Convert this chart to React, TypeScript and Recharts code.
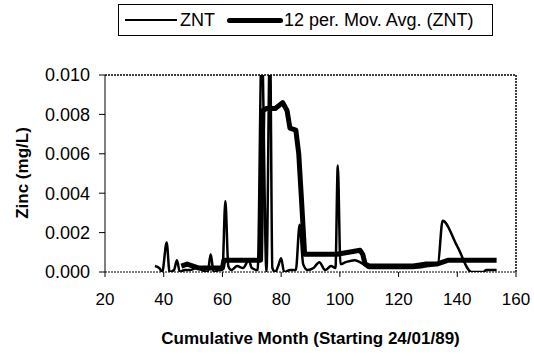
import React from "react";
import {
  LineChart,
  Line,
  XAxis,
  YAxis,
  ReferenceLine,
  Label,
} from "recharts";

// raw monthly zinc readings (ZNT)
const zntMonths = [
  37, 38.5, 39.5, 41, 42, 43.5, 44.5, 45.5, 47, 49, 51, 53, 55, 56, 57, 59, 60,
  61, 62, 63, 65, 67, 69, 70, 72, 73.4, 75, 76.2, 77, 78, 79, 80, 81, 83, 85,
  86.3, 87.5, 89, 91, 93, 95, 97, 98.5, 99.3, 100.2, 102, 105, 108, 110, 115,
  120, 125, 130, 133.4, 135, 140, 144.9, 149, 149.8, 153.4,
];
const zntValues = [
  0.0003, 0.0002, 0.0, 0.0015, 0.0, 0.0001, 0.0006, 0.0, 0.0001, 0.0001,
  0.0002, 0.0001, 0.0, 0.0009, 0.0, 0.0001, 0.0001, 0.0036, 0.0003, 0.0001,
  0.0003, 0.0002, 0.0006, 0.0002, 0.0001, 0.0118, 0.0, 0.012, 0.0002, 0.0,
  0.0003, 0.0007, 0.0, 0.0001, 0.0001, 0.0024, 0.0004, 0.0001, 0.0002, 0.0005,
  0.0001, 0.0003, 0.0002, 0.0054, 0.0004, 0.0005, 0.0006, 0.0004, 0.0002,
  0.0002, 0.0002, 0.0002, 0.0003, 0.0004, 0.0026, 0.0013, 0.0, 0.0, 0.0001,
  0.0001,
];

// 12 period moving average of ZNT
const avgMonths = [
  46, 48, 50, 52, 54, 56, 58, 60, 60.5, 64, 68, 72, 73, 73.8, 75, 78, 80.5, 82,
  83, 85, 86, 87, 88, 92, 95, 99, 103, 106.9, 107.8, 108.6, 110, 115, 120, 125,
  129, 133, 135, 137, 140, 145, 150, 153.4,
];
const avgValues = [
  0.0003, 0.0004, 0.0003, 0.0002, 0.0002, 0.0002, 0.0002, 0.0002, 0.0006,
  0.0006, 0.0006, 0.0006, 0.0006, 0.0082, 0.0083, 0.0083, 0.0086, 0.0082,
  0.0073, 0.0072, 0.006, 0.0035, 0.0009, 0.0009, 0.0009, 0.0009, 0.001,
  0.0011, 0.0009, 0.0004, 0.0003, 0.0003, 0.0003, 0.0003, 0.0004, 0.0004,
  0.0005, 0.0006, 0.0006, 0.0006, 0.0006, 0.0006,
];

const xTicks = [20, 40, 60, 80, 100, 120, 140, 160];
const yTicks = [0, 0.002, 0.004, 0.006, 0.008, 0.01];

const znt = zntMonths.map((m, i) => ({ month: m, value: zntValues[i] }));
const avg = avgMonths.map((m, i) => ({ month: m, value: avgValues[i] }));

const font = "'Liberation Sans', Arial, sans-serif";

export default function App() {
  return (
    <div
      style={{
        position: "absolute",
        left: 0,
        top: 0,
        width: 534,
        height: 356,
        background: "#fff",
        fontFamily: font,
      }}
    >
      <div
        style={{
          position: "absolute",
          left: 118,
          top: 4,
          width: 373,
          height: 30,
          border: "1px solid #000",
          display: "flex",
          alignItems: "center",
          fontSize: 18,
          color: "#000",
        }}
      >
        <div style={{ width: 52, height: 2, background: "#000", marginLeft: 6 }} />
        <span style={{ marginLeft: 3 }}>ZNT</span>
        <div style={{ width: 56, height: 5, background: "#000", marginLeft: 12, borderRadius: 3 }} />
        <span style={{ marginLeft: 1 }}>12 per. Mov. Avg. (ZNT)</span>
      </div>

      <div
        style={{
          position: "absolute",
          left: 23,
          top: 173,
          transform: "translate(-50%, -50%) rotate(-90deg)",
          fontSize: 17,
          fontWeight: "bold",
          whiteSpace: "nowrap",
        }}
      >
        Zinc (mg/L)
      </div>

      <LineChart
        width={534}
        height={356}
        margin={{ top: 75, right: 18, left: 0, bottom: 0 }}
      >
        <XAxis
          dataKey="month"
          type="number"
          domain={[20, 160]}
          ticks={xTicks}
          allowDuplicatedCategory={false}
          height={84}
          stroke="#000"
          axisLine={{ stroke: "#000", strokeDasharray: "2 1" }}
          tickLine={{ stroke: "#000" }}
          tickSize={5}
          tickMargin={16}
          tick={{ fill: "#000", fontSize: 17, fontFamily: font }}
        >
          <Label
            value="Cumulative Month (Starting 24/01/89)"
            position="insideBottom"
            offset={12}
            style={{ fill: "#000", fontSize: 17, fontWeight: "bold", fontFamily: font }}
          />
        </XAxis>
        <YAxis
          dataKey="value"
          type="number"
          domain={[0, 0.01]}
          allowDataOverflow
          ticks={yTicks}
          width={105}
          stroke="#000"
          tickSize={6}
          tickMargin={9}
          tickFormatter={(v: number) => v.toFixed(3)}
          tick={{ fill: "#000", fontSize: 18, fontFamily: font }}
        />
        <ReferenceLine y={0.01} stroke="#000" strokeDasharray="2 1" strokeWidth={1.5} />
        <ReferenceLine x={160} stroke="#000" strokeDasharray="2 1" strokeWidth={1.5} />
        <Line
          data={znt}
          dataKey="value"
          type="monotone"
          stroke="#000"
          strokeWidth={2.5}
          dot={false}
          isAnimationActive={false}
        />
        <Line
          data={avg}
          dataKey="value"
          type="linear"
          stroke="#000"
          strokeWidth={5}
          strokeLinejoin="round"
          dot={false}
          isAnimationActive={false}
        />
      </LineChart>
    </div>
  );
}
